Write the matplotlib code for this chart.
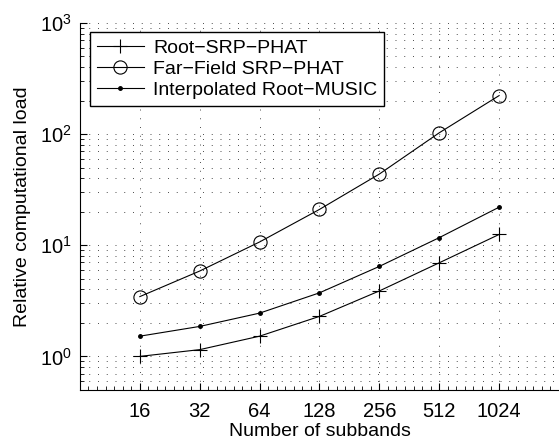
import numpy as np
import matplotlib
matplotlib.use("Agg")
import matplotlib.pyplot as plt
from matplotlib.ticker import FixedLocator, LogLocator, NullFormatter

plt.rcParams['font.family'] = ['Liberation Sans', 'DejaVu Sans']
plt.rcParams['mathtext.fontset'] = 'custom'
plt.rcParams['mathtext.rm'] = 'Liberation Sans'
plt.rcParams['mathtext.it'] = 'Liberation Sans:italic'

subbands = [16, 32, 64, 128, 256, 512, 1024]
root_srp = [1.0, 1.15, 1.52, 2.29, 3.88, 6.95, 12.5]
far_field = [3.45, 5.86, 10.7, 21.0, 43.7, 102.7, 222.0]
root_music = [1.52, 1.86, 2.45, 3.73, 6.45, 11.7, 22.0]

labels = ['Root\u2212SRP\u2212PHAT', 'Far\u2212Field SRP\u2212PHAT', 'Interpolated Root\u2212MUSIC']

fig = plt.figure(figsize=(5.59, 4.41), dpi=100)
ax = fig.add_axes([0.143, 0.116, 0.857, 0.832])

ax.plot(subbands, root_srp, color='black', lw=0.8, marker='+', ms=10, mew=0.8, label=labels[0])
ax.plot(subbands, far_field, color='black', lw=0.8, marker='o', ms=9.5, mfc='none', mew=0.8, label=labels[1])
ax.plot(subbands, root_music, color='black', lw=0.8, marker='.', ms=5, label=labels[2])

ax.set_xscale('log', base=2)
ax.set_yscale('log')
ax.set_xlim(8, 2048)
ax.set_ylim(0.5, 1000)

ax.xaxis.set_major_locator(FixedLocator(subbands))
ax.set_xticklabels([str(s) for s in subbands])
ax.xaxis.set_minor_locator(FixedLocator(2 ** np.arange(3, 11.01, 1 / 7)))
ax.xaxis.set_minor_formatter(NullFormatter())
ax.yaxis.set_major_locator(FixedLocator([1, 10, 100, 1000]))
ax.set_yticklabels([r'$\mathregular{10^0}$', r'$\mathregular{10^1}$',
                    r'$\mathregular{10^2}$', r'$\mathregular{10^3}$'])
ax.yaxis.set_minor_locator(LogLocator(base=10, subs=range(2, 10), numticks=20))
ax.yaxis.set_minor_formatter(NullFormatter())

dots = (0, (1, 8))
ax.grid(True, which='major', axis='both', color='0.3', lw=0.7, linestyle=dots)
ax.grid(True, which='minor', axis='y', color='0.3', lw=0.7, linestyle=dots)
ax.set_axisbelow(True)

ax.spines['top'].set_visible(False)
ax.spines['right'].set_visible(False)
ax.tick_params(which='major', direction='in', length=5, labelsize=14.5, width=0.8)
ax.tick_params(which='minor', direction='in', length=3, width=0.6)
ax.tick_params(axis='x', pad=9)
ax.tick_params(axis='y', pad=6)

ax.set_xlabel('Number of subbands', fontsize=14, labelpad=1)
ax.set_ylabel('Relative computational load', fontsize=14, labelpad=6)

leg = ax.legend(loc='upper left', bbox_to_anchor=(0.013, 0.985), fontsize=14, frameon=True,
                fancybox=False, edgecolor='black', framealpha=1, handlelength=2.4,
                borderpad=0.35, labelspacing=0.18, handletextpad=0.5, borderaxespad=0.2)
leg.get_frame().set_linewidth(1.0)

fig.savefig('out.png', dpi=100)
